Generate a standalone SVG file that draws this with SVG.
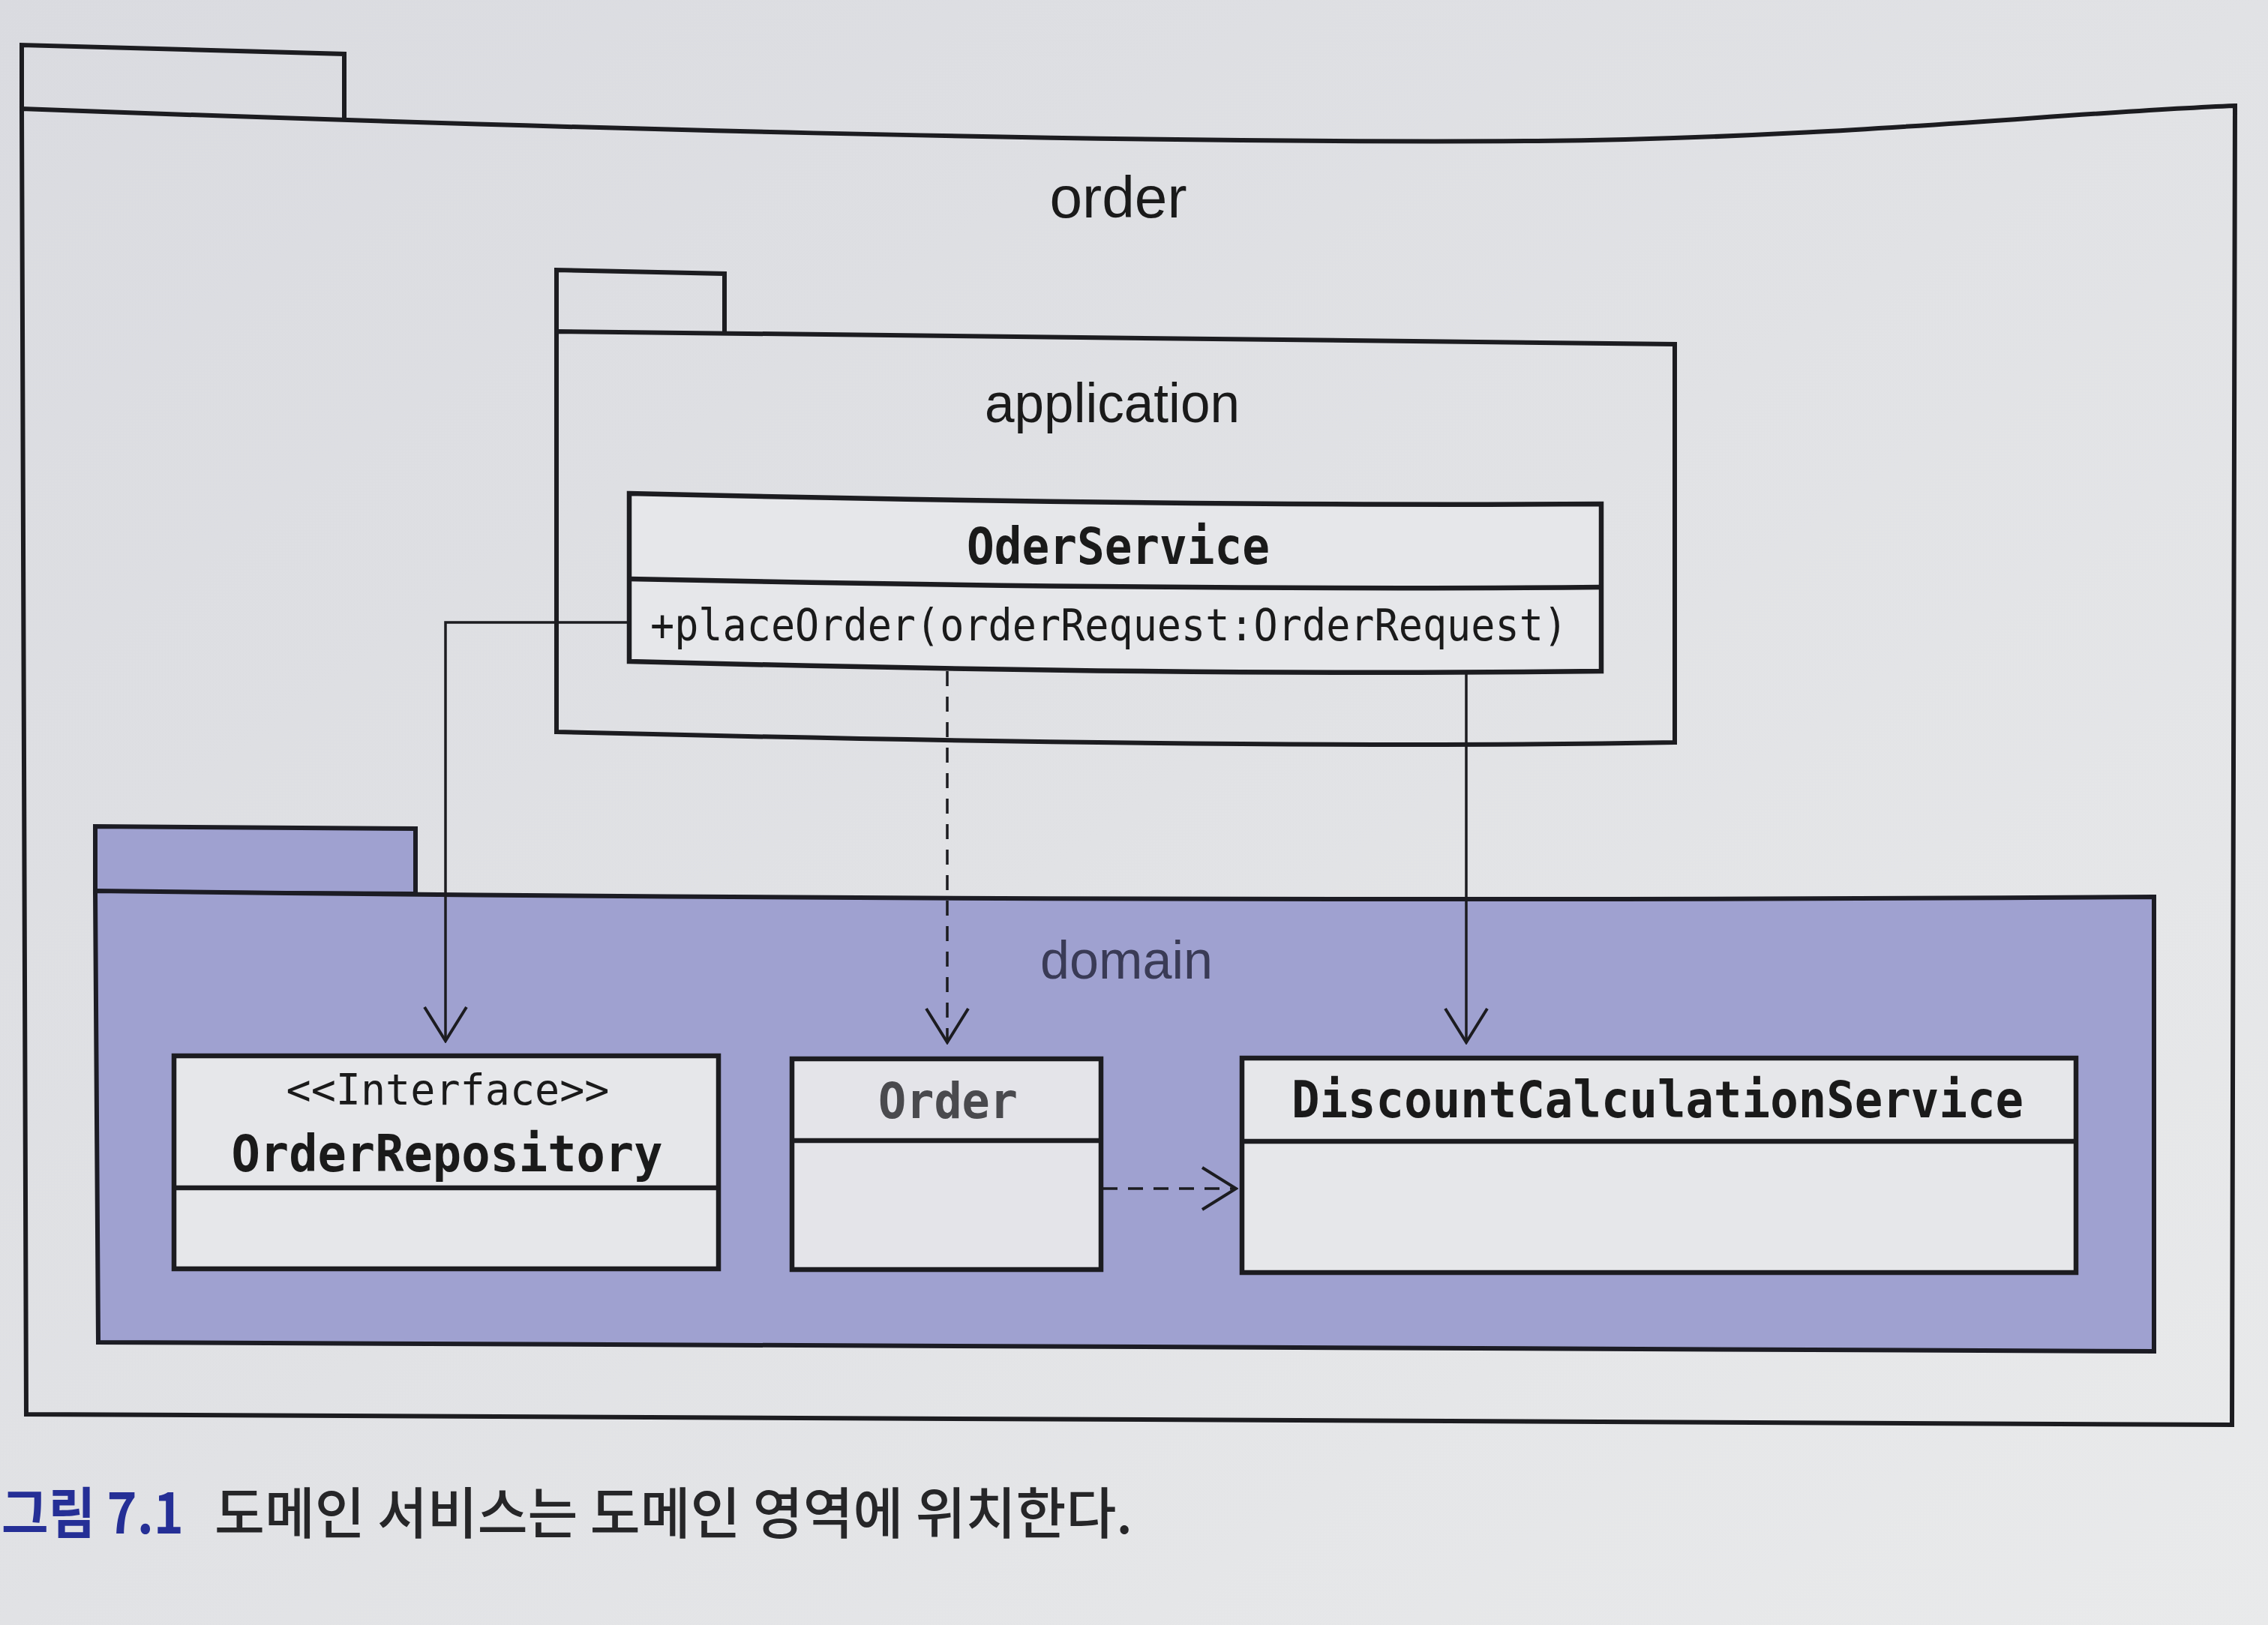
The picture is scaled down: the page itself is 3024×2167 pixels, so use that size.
<svg xmlns="http://www.w3.org/2000/svg" width="3024" height="2167" viewBox="0 0 3024 2167">
  <style>
    .pkg { fill: none; stroke: #1c1c20; stroke-width: 6; stroke-linejoin: miter; }
    .pkgfill { fill: #9fa1d0; stroke: #1c1c24; stroke-width: 6; }
    .cls { fill: #e6e7ea; stroke: #1c1c20; stroke-width: 6.5; }
    .sep { fill: none; stroke: #1c1c20; stroke-width: 6.5; }
    .pkglabel { font-family: "Liberation Sans", Arial, sans-serif; fill: #1a1a1a; text-anchor: middle; }
    .name { font-family: "DejaVu Sans Mono", "Liberation Mono", monospace; font-weight: bold; fill: #1a1a1a; text-anchor: middle; }
    .member { font-family: "DejaVu Sans Mono", "Liberation Mono", monospace; fill: #1a1a1a; }
    .stereo { font-family: "DejaVu Sans Mono", "Liberation Mono", monospace; fill: #1a1a1a; text-anchor: middle; }
    .conn { fill: none; stroke: #1c1c20; stroke-width: 3.5; }
    .dash { stroke-dasharray: 20 14; }
    .cap { font-family: "Noto Sans CJK KR", "Noto Sans", sans-serif; font-size: 74px; }
  </style>
  <defs>
    <linearGradient id="bg" x1="0" y1="0" x2="1" y2="1">
      <stop offset="0" stop-color="#dadbe0"/>
      <stop offset="0.5" stop-color="#e1e2e5"/>
      <stop offset="1" stop-color="#e9eaeb"/>
    </linearGradient>
    <marker id="open" markerUnits="userSpaceOnUse" viewBox="0 0 50 62" refX="47" refY="31" markerWidth="50" markerHeight="62" orient="auto">
      <path d="M2,3 L47,31 L2,59" fill="none" stroke="#1c1c20" stroke-width="4" stroke-dasharray="none"/>
    </marker>
  </defs>

  <rect x="0" y="0" width="3024" height="2167" fill="url(#bg)"/>

  <g id="pkg-order">
    <path class="pkg" d="M29,145 L29,60 L459,72 L459,157"/>
    <path class="pkg" d="M29,145 C700,170 1500,192 2050,188 C2450,184 2750,150 2980,141 L2976,1900 L35,1886 Z"/>
    <text class="pkglabel" x="1491" y="290" font-size="78" textLength="183" lengthAdjust="spacingAndGlyphs">order</text>
  </g>

  <g id="pkg-application">
    <path class="pkg" d="M742,443 L742,360 L966,365 L966,446"/>
    <path class="pkg" d="M742,442 Q1500,452 2233,459 L2233,990 Q1700,1000 742,976 Z"/>
    <text class="pkglabel" x="1483" y="563" font-size="74" textLength="340" lengthAdjust="spacingAndGlyphs">application</text>
  </g>

  <g id="pkg-domain">
    <path class="pkgfill" d="M127,1190 L127,1102 L554,1105 L554,1192 Z"/>
    <path class="pkgfill" d="M127,1188 Q1500,1205 2872,1196 L2872,1802 L131,1790 Z"/>
    <text class="pkglabel" x="1502" y="1305" font-size="72" textLength="230" lengthAdjust="spacingAndGlyphs" style="fill:#3a3b56">domain</text>
  </g>

  <g id="connectors">
    <path class="conn" d="M839,830 L594,830 L594,1388" marker-end="url(#open)"/>
    <path class="conn dash" d="M1263,895 L1263,1390" marker-end="url(#open)"/>
    <path class="conn" d="M1955,896 L1955,1390" marker-end="url(#open)"/>
    <path class="conn dash" d="M1470,1585 L1648,1585" marker-end="url(#open)"/>
  </g>

  <g id="class-OderService">
    <path class="cls" d="M839,658 Q1600,676 2135,672 L2135,895 Q1600,902 839,882 Z"/>
    <path class="sep" d="M839,772 Q1600,788 2135,783"/>
    <text class="name" x="1491" y="752" font-size="68" textLength="404" lengthAdjust="spacingAndGlyphs">OderService</text>
    <text class="member" x="867" y="854" font-size="58" textLength="1223" lengthAdjust="spacingAndGlyphs">+placeOrder(orderRequest:OrderRequest)</text>
  </g>

  <g id="class-OrderRepository">
    <rect class="cls" x="232" y="1408" width="726" height="284"/>
    <line class="sep" x1="232" y1="1584" x2="958" y2="1584"/>
    <text class="stereo" x="597" y="1473" font-size="57" textLength="431" lengthAdjust="spacingAndGlyphs">&lt;&lt;Interface&gt;&gt;</text>
    <text class="name" x="596" y="1562" font-size="68" textLength="575" lengthAdjust="spacingAndGlyphs">OrderRepository</text>
  </g>

  <g id="class-Order">
    <rect class="cls" x="1056" y="1412" width="412" height="281" style="fill:#e4e4e9"/>
    <line class="sep" x1="1056" y1="1521" x2="1468" y2="1521"/>
    <text class="name" x="1264" y="1491" font-size="66" textLength="186" lengthAdjust="spacingAndGlyphs" style="fill:#4a4a4e">Order</text>
  </g>

  <g id="class-DiscountCalculationService">
    <rect class="cls" x="1656" y="1411" width="1112" height="286"/>
    <line class="sep" x1="1656" y1="1522" x2="2768" y2="1522"/>
    <text class="name" x="2210" y="1490" font-size="68" textLength="976" lengthAdjust="spacingAndGlyphs">DiscountCalculationService</text>
  </g>

  <g id="caption">
    <text class="cap" x="2" y="2045" font-weight="bold" fill="#252f96" textLength="243" lengthAdjust="spacingAndGlyphs">그림 7.1</text>
    <text class="cap" x="286" y="2045" font-weight="500" fill="#262628" textLength="1224" lengthAdjust="spacingAndGlyphs">도메인 서비스는 도메인 영역에 위치한다.</text>
  </g>
</svg>
